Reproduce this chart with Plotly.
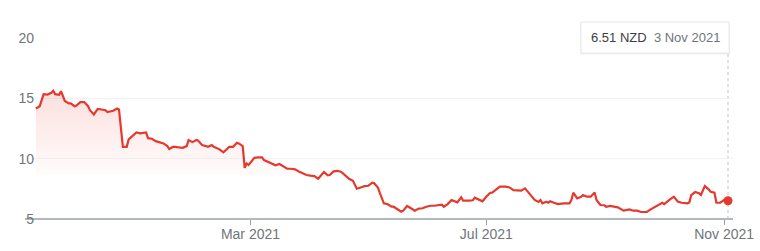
import plotly.graph_objects as go

dates = [
    "2020-11-10", "2020-11-12", "2020-11-14", "2020-11-16", "2020-11-18", "2020-11-19", "2020-11-20",
    "2020-11-22", "2020-11-23", "2020-11-25", "2020-11-27", "2020-11-28", "2020-11-30",
    "2020-12-01", "2020-12-03", "2020-12-05", "2020-12-07", "2020-12-08", "2020-12-10", "2020-12-12",
    "2020-12-14", "2020-12-16", "2020-12-17", "2020-12-19", "2020-12-20", "2020-12-22", "2020-12-23",
    "2020-12-25", "2020-12-27", "2020-12-28", "2020-12-30",
    "2021-01-01", "2021-01-03", "2021-01-05", "2021-01-06", "2021-01-07", "2021-01-09", "2021-01-11",
    "2021-01-13", "2021-01-15", "2021-01-17", "2021-01-18", "2021-01-20", "2021-01-22", "2021-01-25",
    "2021-01-27", "2021-01-28", "2021-01-30",
    "2021-02-01", "2021-02-02", "2021-02-04", "2021-02-06", "2021-02-07", "2021-02-09", "2021-02-10",
    "2021-02-13", "2021-02-15", "2021-02-17", "2021-02-18", "2021-02-20", "2021-02-22", "2021-02-23",
    "2021-02-25", "2021-02-26", "2021-02-27", "2021-02-28",
    "2021-03-01", "2021-03-03", "2021-03-05", "2021-03-07", "2021-03-08", "2021-03-10", "2021-03-12",
    "2021-03-14", "2021-03-16", "2021-03-18", "2021-03-20", "2021-03-22", "2021-03-24", "2021-03-26",
    "2021-03-28", "2021-03-30",
    "2021-04-01", "2021-04-03", "2021-04-05", "2021-04-08", "2021-04-10", "2021-04-11", "2021-04-13",
    "2021-04-15", "2021-04-17", "2021-04-19", "2021-04-21", "2021-04-23", "2021-04-25", "2021-04-27",
    "2021-04-29",
    "2021-05-01", "2021-05-03", "2021-05-04", "2021-05-06", "2021-05-07", "2021-05-09", "2021-05-11",
    "2021-05-13", "2021-05-14", "2021-05-16", "2021-05-18", "2021-05-19", "2021-05-21", "2021-05-23",
    "2021-05-25", "2021-05-27", "2021-05-29", "2021-05-31",
    "2021-06-02", "2021-06-04", "2021-06-06", "2021-06-08", "2021-06-09", "2021-06-11", "2021-06-13",
    "2021-06-16", "2021-06-18", "2021-06-19", "2021-06-22", "2021-06-24", "2021-06-25", "2021-06-27",
    "2021-06-29",
    "2021-07-01", "2021-07-03", "2021-07-04", "2021-07-06", "2021-07-08", "2021-07-11", "2021-07-13",
    "2021-07-15", "2021-07-18", "2021-07-19", "2021-07-21", "2021-07-22", "2021-07-24", "2021-07-26",
    "2021-07-28", "2021-07-29", "2021-07-30",
    "2021-08-01", "2021-08-02", "2021-08-03", "2021-08-05", "2021-08-07", "2021-08-10", "2021-08-13",
    "2021-08-14", "2021-08-15", "2021-08-17", "2021-08-19", "2021-08-20", "2021-08-22", "2021-08-24",
    "2021-08-26", "2021-08-27", "2021-08-29", "2021-08-31",
    "2021-09-01", "2021-09-03", "2021-09-05", "2021-09-07", "2021-09-10", "2021-09-13", "2021-09-15",
    "2021-09-17", "2021-09-19", "2021-09-22", "2021-09-24", "2021-09-26", "2021-09-28", "2021-09-30",
    "2021-10-01", "2021-10-03", "2021-10-04", "2021-10-06", "2021-10-08", "2021-10-10", "2021-10-13",
    "2021-10-14", "2021-10-15", "2021-10-17", "2021-10-19", "2021-10-20", "2021-10-22", "2021-10-24",
    "2021-10-25", "2021-10-27", "2021-10-28", "2021-10-30",
    "2021-11-01", "2021-11-03",
]

prices = [
    14.17, 14.36, 15.36, 15.33, 15.47, 15.64, 15.36,
    15.30, 15.60, 14.80, 14.59, 14.59, 14.36,
    14.42, 14.70, 14.70, 14.36, 14.03, 13.68, 14.14,
    14.09, 14.03, 13.87, 13.98, 13.98, 14.17, 14.09,
    10.99, 10.99, 11.60, 11.93,
    12.18, 12.10, 12.15, 12.18, 11.71, 11.66, 11.46,
    11.38, 11.27, 11.05, 10.80, 11.00, 10.95, 10.91,
    11.05, 11.55, 11.38,
    11.55, 11.49, 11.13, 11.05, 10.99, 11.13, 10.99,
    10.78, 10.53, 10.83, 10.99, 10.99, 11.32, 11.27,
    11.05, 9.25, 9.61, 9.48,
    9.67, 10.08, 10.11, 10.11, 9.89, 9.72, 9.61,
    9.45, 9.56, 9.39, 9.17, 9.17, 9.12, 8.95,
    8.79, 8.65,
    8.60, 8.56, 8.34, 8.90, 8.62, 8.65, 8.95,
    9.00, 8.90, 8.62, 8.34, 8.17, 7.51, 7.62,
    7.73,
    7.76, 8.01, 7.96, 7.59, 7.13, 6.30, 6.22,
    6.02, 6.02, 5.80, 5.60, 5.69, 6.08, 5.89,
    5.69, 5.86, 5.89, 6.02,
    6.10, 6.10, 6.14, 6.19, 6.02, 6.24, 6.58,
    6.38, 6.80, 6.52, 6.52, 6.55, 6.77, 6.63,
    6.47,
    6.85, 7.18, 7.18, 7.46, 7.68, 7.68, 7.62,
    7.40, 7.40, 7.35, 7.54, 7.35, 6.96, 6.58,
    6.41, 6.58, 6.30,
    6.44, 6.35, 6.47, 6.35, 6.24, 6.30, 6.30,
    6.58, 7.18, 6.71, 6.85, 6.99, 6.85, 6.85,
    7.20, 6.58, 6.16, 6.14,
    6.02, 6.08, 6.02, 5.97, 5.69, 5.80, 5.69,
    5.69, 5.58, 5.58, 5.80, 5.97, 6.14, 6.35,
    6.24, 6.52, 6.63, 6.85, 6.44, 6.35, 6.30,
    6.38, 6.99, 7.24, 7.13, 6.99, 7.73, 7.46,
    7.26, 7.18, 6.35, 6.35,
    6.58, 6.51,
]

y_ticks = [5, 10, 15, 20]
x_tick_vals = ["2021-03-01", "2021-07-01", "2021-11-01"]
x_tick_text = ["Mar 2021", "Jul 2021", "Nov 2021"]
tooltip_value = "6.51 NZD"
tooltip_date = "3 Nov 2021"

RED = "#e5392e"
GREY_TXT = "#70757a"
AXIS = "#9aa0a6"

fig = go.Figure()
fig.add_trace(go.Scatter(
    x=dates, y=prices, mode="lines",
    line=dict(color=RED, width=2.2),
    fill="tozeroy",
    fillgradient=dict(
        type="vertical",
        colorscale=[[0, "rgba(229,57,46,0)"], [0.002, "rgba(229,57,46,0.015)"], [1, "rgba(229,57,46,0.16)"]],
        start=8.6, stop=15.7,
    ),
    hoverinfo="skip", showlegend=False,
))
fig.add_trace(go.Scatter(
    x=[dates[-1]], y=[prices[-1]], mode="markers",
    marker=dict(color=RED, size=9, line=dict(width=0)),
    hoverinfo="skip", showlegend=False,
))

fig.update_layout(
    width=760, height=251,
    margin=dict(l=32, r=27, t=38, b=32),
    paper_bgcolor="white", plot_bgcolor="white",
    font=dict(family="Liberation Sans, Arial, sans-serif", size=14, color=GREY_TXT),
    xaxis=dict(
        range=["2020-11-08", "2021-11-05 14:00"],
        tickvals=x_tick_vals, ticktext=x_tick_text,
        showgrid=False, zeroline=False, showline=False,
        ticks="outside", ticklen=5, tickcolor=AXIS, tickwidth=1,
        tickfont=dict(size=14, color=GREY_TXT),
        ticklabelstandoff=-3,
        automargin=False,
    ),
    yaxis=dict(
        range=[5, 20.02],
        tickvals=y_ticks,
        showgrid=True, gridcolor="#f1f3f4", gridwidth=1,
        zeroline=False, showline=False, ticks="",
        tickfont=dict(size=14, color=GREY_TXT),
        ticklabelstandoff=-3,
        automargin=False,
    ),
    shapes=[
        dict(type="line", xref="paper", yref="paper", x0=-7 / 701, x1=1.0, y0=0, y1=0,
             line=dict(color=AXIS, width=1.3), layer="below"),
        dict(type="line", xref="x", yref="paper", x0=dates[-1], x1=dates[-1], y0=0, y1=0.917,
             line=dict(color="#bdc1c6", width=1, dash="dot"), layer="below"),
        dict(type="rect", xref="paper", yref="paper", x0=0.7820, x1=0.9957, y0=0.910, y1=1.090,
             line=dict(width=0), fillcolor="rgba(0,0,0,0.08)", layer="above"),
        dict(type="rect", xref="paper", yref="paper", x0=0.7832, x1=0.9943, y0=0.917, y1=1.088,
             line=dict(color="#e8eaed", width=1), fillcolor="white", layer="above"),
    ],
    annotations=[
        dict(xref="paper", yref="paper", x=(589 - 32) / 701, y=(219 - 37.5) / 181,
             xanchor="left", yanchor="middle", showarrow=False,
             text=f"<span style='color:#3c4043'>{tooltip_value}</span>&nbsp;&nbsp;"
                  f"<span style='color:{GREY_TXT}'>{tooltip_date}</span>",
             font=dict(size=13, family="Liberation Sans, Arial, sans-serif")),
    ],
)

fig.write_html("out.html")
